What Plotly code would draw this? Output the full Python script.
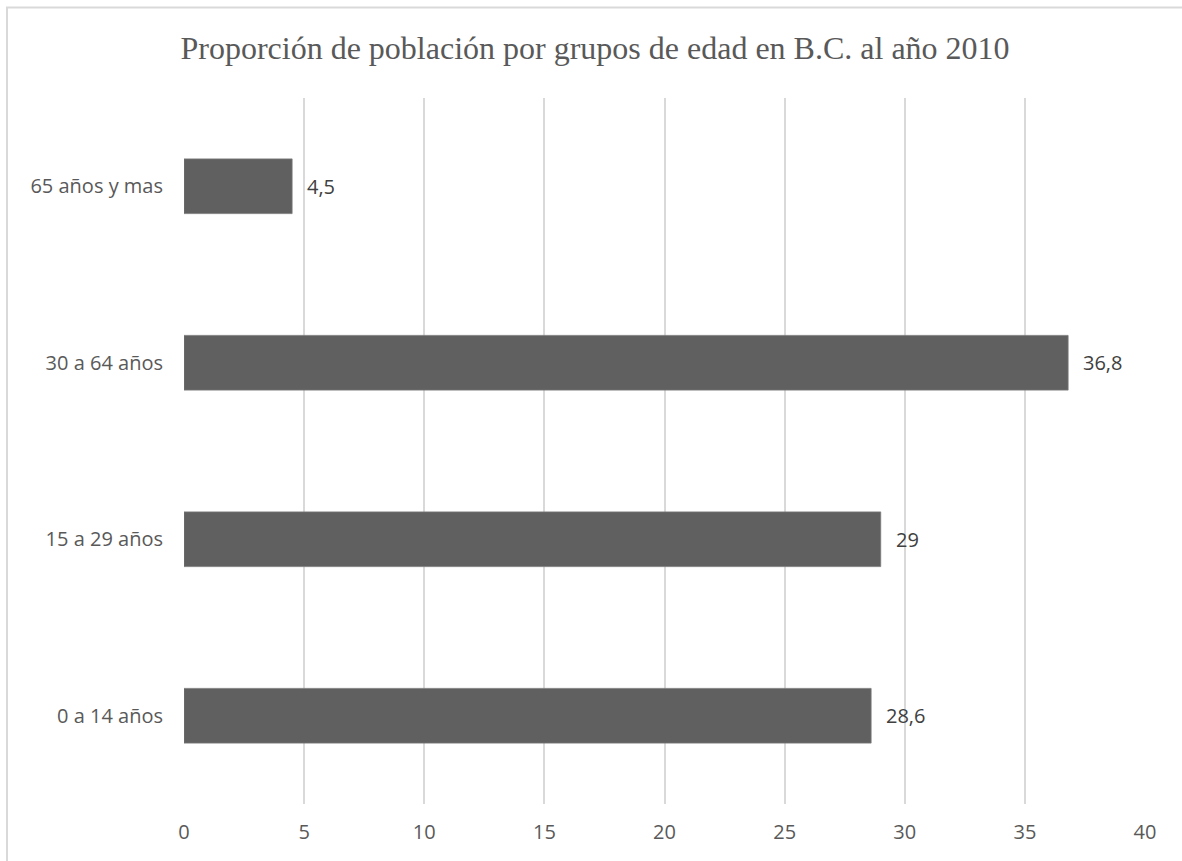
import plotly.graph_objects as go

categories = ["0 a 14 años", "15 a 29 años", "30 a 64 años", "65 años y mas"]
values = [28.6, 29, 36.8, 4.5]
x_ticks = [0, 5, 10, 15, 20, 25, 30, 35, 40]
title_text = "Proporción de población por grupos de edad en B.C. al año 2010"

labels = [str(v).replace(".", ",") for v in values]

fig = go.Figure()
fig.add_trace(go.Bar(
    y=categories, x=values, orientation="h",
    marker=dict(color="#606060", line=dict(color="#7a7a7a", width=0.8)),
    hoverinfo="skip",
))

for c, v, t in zip(categories, values, labels):
    fig.add_annotation(x=v, y=c, text=t, showarrow=False, xanchor="left",
                       xshift=13, font=dict(family="Open Sans", size=20, color="#404040"))

fig.update_layout(
    width=1182, height=861,
    margin=dict(l=184, r=37, t=98, b=57),
    paper_bgcolor="white", plot_bgcolor="white",
    bargap=0.69,
    showlegend=False,
    title=dict(text=title_text, x=(595 / 1182), xref="container", xanchor="center",
               y=1 - 48 / 861, yref="container", yanchor="middle",
               font=dict(family="Liberation Serif", size=32, color="#595959")),
    xaxis=dict(range=[0, 40], tickvals=x_ticks, showgrid=True, gridcolor="#d9d9d9",
               gridwidth=1.5, zeroline=False, showline=False,
               tickfont=dict(family="Open Sans", size=20, color="#595959"),
               ticklabelstandoff=14, fixedrange=True),
    yaxis=dict(categoryorder="array", categoryarray=categories, showgrid=False,
               zeroline=False, showline=False,
               tickfont=dict(family="Open Sans", size=20, color="#595959"),
               ticklabelstandoff=20),
    shapes=[dict(type="rect", xref="paper", yref="paper",
                 x0=(7 - 184) / 961, x1=1.3, y0=-0.2, y1=1 + (98 - 7.5) / 706,
                 line=dict(color="#d9d9d9", width=2), layer="below")],
)

fig.write_html("out.html", config={"displayModeBar": False},
               post_script="document.body.style.margin='0px';")
